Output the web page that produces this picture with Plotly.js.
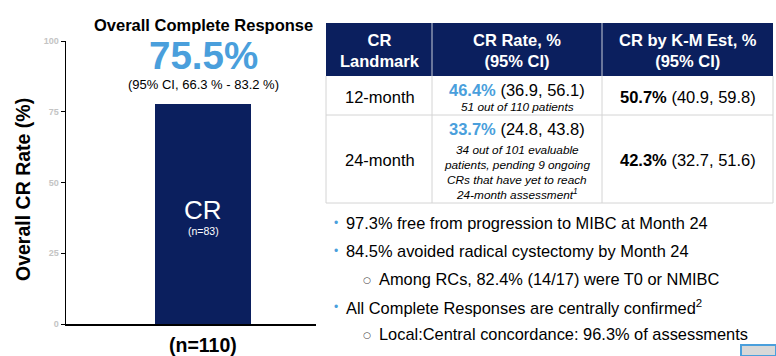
<!DOCTYPE html>
<html><head><meta charset="utf-8">
<script src="https://cdn.plot.ly/plotly-3.0.1.min.js"></script>
<style>html,body{margin:0;padding:0;background:#fff;}#chart{width:776px;height:356px;}</style>
</head><body><div id="chart"></div>
<script>
// ---- data ----
const categories = ['CR'];
const crRate = [77.7];
const barLabel = 'CR';
const barCount = '(n=83)';
const totalLabel = '(n=110)';
const yTicks = [0, 25, 50, 75, 100];
const headline = 'Overall Complete Response';
const headlineValue = '75.5%';
const headlineCI = '(95% CI, 66.3 % - 83.2 %)';
const yTitle = 'Overall CR Rate (%)';

const tableHeader = ['CR<br>Landmark', 'CR Rate, %<br>(95% CI)', 'CR by K-M Est, %<br>(95% CI)'];
const landmarks = ['12-month', '24-month'];
const crRateValues = ['46.4%', '33.7%'];
const crRateCI = ['(36.9, 56.1)', '(24.8, 43.8)'];
const crRateNotes = [['51 out of 110 patients'],
  ['34 out of 101 evaluable', 'patients, pending 9 ongoing', 'CRs that have yet to reach', '24-month assessment<sup>1</sup>']];
const kmValues = ['50.7%', '42.3%'];
const kmCI = ['(40.9, 59.8)', '(32.7, 51.6)'];

const bullets = [
  {level: 0, text: '97.3% free from progression to MIBC at Month 24'},
  {level: 0, text: '84.5% avoided radical cystectomy by Month 24'},
  {level: 1, text: 'Among RCs, 82.4% (14/17) were T0 or NMIBC'},
  {level: 0, text: 'All Complete Responses are centrally confirmed<sup>2</sup>'},
  {level: 1, text: 'Local:Central concordance: 96.3% of assessments'}
];

// ---- layout helpers ----
const W = 776, H = 356;
const px = x => x / W;
const py = y => 1 - y / H;
const NAVY = '#0b1f5e', BLUE = '#4a9fdc', GRID = '#d4d4d4';
const FONT = 'Arial, "Liberation Sans", sans-serif';

const ann = [];
const shapes = [];
function txt(x, y, text, size, opts) {
  ann.push(Object.assign({xref: 'paper', yref: 'paper', x: px(x), y: py(y), text: text,
    showarrow: false, xanchor: 'center', yanchor: 'middle',
    font: {family: FONT, size: size, color: '#000'}}, opts || {}));
}

// left chart texts
txt(203, 25, '<b>' + headline + '</b>', 16.5);
txt(203, 56, '<b>' + headlineValue + '</b>', 38.5, {font: {family: FONT, size: 38.5, color: BLUE}});
txt(203, 85, headlineCI, 13);
txt(203, 345, '<b>' + totalLabel + '</b>', 19.5);
txt(23, 190, '<b>' + yTitle + '</b>', 19.5, {textangle: -90});
txt(203, 210, barLabel, 26, {font: {family: FONT, size: 26, color: '#fff'}});
txt(203, 231, barCount, 10.5, {font: {family: FONT, size: 10.5, color: '#fff'}});

// table
const colX = [326, 432, 602, 773];
const rowY = [23, 76, 115, 203];
shapes.push({type: 'rect', xref: 'paper', yref: 'paper', x0: px(colX[0]), x1: px(colX[3]), y0: py(rowY[0]), y1: py(rowY[1]), fillcolor: NAVY, line: {width: 0}});
shapes.push({type: 'line', xref: 'paper', yref: 'paper', x0: px(colX[1]), x1: px(colX[1]), y0: py(rowY[0]), y1: py(rowY[1]), line: {color: '#c8cdd8', width: 1}});
shapes.push({type: 'line', xref: 'paper', yref: 'paper', x0: px(colX[2]), x1: px(colX[2]), y0: py(rowY[0]), y1: py(rowY[1]), line: {color: '#c8cdd8', width: 1}});
for (let c = 0; c < colX.length; c++) {
  shapes.push({type: 'line', xref: 'paper', yref: 'paper', x0: px(colX[c]), x1: px(colX[c]), y0: py(rowY[1]), y1: py(rowY[3]), line: {color: GRID, width: 1}});
}
for (let r = 2; r < rowY.length; r++) {
  shapes.push({type: 'line', xref: 'paper', yref: 'paper', x0: px(colX[0]), x1: px(colX[3]), y0: py(rowY[r]), y1: py(rowY[r]), line: {color: GRID, width: 1}});
}
const colC = [380, 517, 688];
tableHeader.forEach((h, i) => txt(colC[i], 50, '<b>' + h + '</b>', 16.5, {font: {family: FONT, size: 16.5, color: '#fff'}}));
const rowMid = [97, 160];
const rateY = [90, 129];
const noteY = [[107], [150, 165, 180, 194]];
landmarks.forEach((lm, r) => {
  txt(colC[0], rowMid[r], lm, 16.5);
  txt(colC[1], rateY[r], '<b><span style="color:' + BLUE + '">' + crRateValues[r] + '</span></b> ' + crRateCI[r], 16.5);
  crRateNotes[r].forEach((line, k) => txt(colC[1], noteY[r][k], '<i>' + line + '</i>', 11.8));
  txt(colC[2], rowMid[r], '<b>' + kmValues[r] + '</b> ' + kmCI[r], 16.5);
});

// bullets
const bulletY = [223, 251, 279, 307, 334];
bullets.forEach((b, i) => {
  if (b.level === 0) {
    txt(336, bulletY[i], '•', 12, {font: {family: FONT, size: 12, color: BLUE}});
    txt(344, bulletY[i], b.text, 16.4, {xanchor: 'left'});
  } else {
    txt(367, bulletY[i] + 1, '○', 9, {font: {family: 'DejaVu Sans', size: 9, color: '#444'}});
    txt(377, bulletY[i], b.text, 16.4, {xanchor: 'left'});
  }
});

// small QR-like mark
shapes.push({type: 'rect', xref: 'paper', yref: 'paper', x0: px(741), x1: px(776), y0: py(356), y1: py(345), fillcolor: '#d8d8d8', line: {color: BLUE, width: 2}});

const trace = {
  type: 'bar', x: [0], y: crRate, width: 0.384,
  marker: {color: NAVY, line: {width: 0}},
  hoverinfo: 'none', name: categories[0]
};

const layout = {
  width: W, height: H, margin: {l: 0, r: 0, t: 0, b: 0},
  paper_bgcolor: '#fff', plot_bgcolor: '#fff', showlegend: false,
  xaxis: {domain: [px(66), px(316)], range: [-0.548, 0.452], showticklabels: false, ticks: '',
    showgrid: false, zeroline: false, showline: true, linecolor: '#000', linewidth: 1.5, fixedrange: true},
  yaxis: {domain: [py(324), py(41)], range: [0, 100], tickvals: yTicks, ticks: 'outside', ticklen: 4,
    tickcolor: '#000', showgrid: false, zeroline: false, showline: true, linecolor: '#000', linewidth: 1.5,
    tickfont: {family: FONT, size: 9, color: '#c4c4c4', weight: 'bold'}, fixedrange: true},
  annotations: ann, shapes: shapes
};
Plotly.newPlot('chart', [trace], layout, {displayModeBar: false, staticPlot: true});
</script></body></html>
